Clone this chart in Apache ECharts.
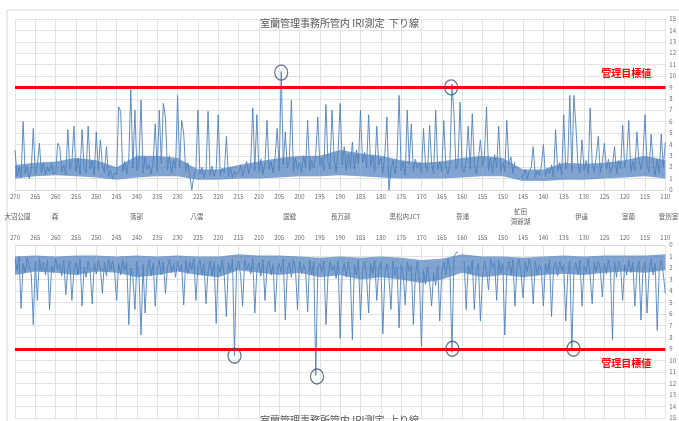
<!DOCTYPE html>
<html>
<head>
<meta charset="utf-8">
<script src="https://cdn.jsdelivr.net/npm/echarts@6/dist/echarts.min.js"></script>
<style>
  html, body { margin: 0; padding: 0; background: #fff; }
  #chart { width: 679px; height: 421px; }
</style>
</head>
<body>
<div id="chart"></div>
<script>
// キロポスト 270 → 110 (0.5km刻み)
const kmStart = 270;
const kmEnd = 110;
const kmStep = 0.5;

// 下り線 IRI (0.5km毎, 270kp から)
const iriDown = [
  3.5, 1.2, 2.0, 1.1, 6.0, 1.4, 2.1, 1.0, 1.8, 5.4,
  1.3, 2.2, 4.1, 1.5, 2.4, 1.3, 2.0, 1.6, 2.3, 1.4,
  1.5, 4.1, 3.8, 1.6, 2.2, 1.3, 5.3, 1.8, 2.4, 5.6,
  1.6, 2.8, 1.4, 5.3, 2.0, 1.5, 5.6, 1.8, 2.6, 1.3,
  5.1, 1.7, 4.4, 2.2, 1.5, 3.8, 1.2, 1.7, 1.0, 1.5,
  1.3, 7.3, 6.9, 1.6, 2.5, 1.4, 2.8, 8.8, 1.9, 7.0,
  1.7, 2.4, 7.9, 1.5, 2.9, 1.8, 2.2, 1.4, 2.5, 5.8,
  1.6, 7.0, 2.3, 7.6, 6.4, 1.8, 3.0, 1.5, 2.6, 1.9,
  8.3, 2.0, 6.1, 5.0, 1.6, 2.4, 1.3, 0.0, 1.2, 1.8,
  7.0, 1.4, 2.0, 1.1, 1.7, 6.9, 1.3, 2.1, 1.2, 1.8,
  6.6, 1.3, 1.9, 1.5, 4.7, 1.2, 2.0, 1.1, 1.6, 1.3,
  1.5, 2.2, 1.2, 1.9, 2.5, 1.4, 2.3, 7.2, 1.7, 6.6,
  1.6, 2.7, 1.4, 2.3, 6.1, 1.8, 2.5, 1.5, 2.9, 5.4,
  1.7, 10.4, 2.2, 5.1, 1.9, 2.6, 7.9, 1.6, 2.8, 1.8,
  2.4, 1.5, 3.0, 2.0, 6.1, 1.7, 2.6, 1.9, 3.2, 6.4,
  2.1, 2.8, 1.7, 7.5, 2.4, 1.8, 7.0, 2.9, 1.6, 3.4,
  7.6, 2.2, 3.8, 1.7, 3.1, 2.0, 4.2, 1.8, 3.5, 2.3,
  7.0, 2.4, 3.3, 1.9, 6.6, 2.1, 3.0, 1.6, 5.6, 2.2,
  2.8, 1.5, 3.2, 6.4, 0.0, 1.8, 2.6, 1.4, 2.9, 8.3,
  1.7, 2.5, 1.3, 7.0, 2.2, 5.8, 1.6, 2.7, 1.9, 2.4,
  1.5, 5.4, 2.1, 1.6, 5.7, 2.3, 1.4, 7.0, 1.8, 2.5,
  1.6, 6.1, 2.0, 1.4, 2.2, 9.3, 6.7, 1.8, 2.4, 7.7,
  2.0, 1.5, 2.6, 5.6, 1.8, 6.7, 2.3, 1.4, 2.7, 4.4,
  2.1, 3.0, 7.3, 1.7, 2.8, 1.5, 3.1, 2.0, 5.6, 1.6,
  2.4, 1.6, 6.1, 2.2, 2.9, 1.5, 2.5, null, null, 1.1,
  1.2, 1.8, 1.0, 1.6, 2.0, 3.8, 1.1, 1.7, 1.3, 2.1,
  4.0, 1.2, 1.9, 1.4, 2.2, 1.1, 5.3, 1.6, 2.4, 1.3,
  6.6, 1.8, 2.5, 8.3, 1.6, 8.3, 5.6, 2.2, 1.5, 4.4,
  1.7, 2.6, 1.4, 7.2, 2.3, 1.6, 2.9, 4.7, 1.5, 2.4,
  4.1, 1.8, 2.7, 1.5, 2.1, 3.8, 1.4, 2.6, 1.9, 5.7,
  2.0, 2.8, 6.1, 1.6, 2.5, 1.7, 5.1, 2.6, 1.8, 2.9,
  6.6, 2.2, 1.6, 4.9, 2.4, 1.3, 2.7, 1.5, 4.9, 2.0,
  4.2
];

// 上り線 IRI (0.5km毎, 270kp から)
const iriUp = [
  1.3, 2.2, 1.0, 5.5, 1.6, 2.4, 1.1, 1.9, 2.5, 6.9,
  1.4, 4.8, 1.2, 2.3, 1.5, 2.6, 1.3, 5.6, 1.8, 2.4,
  1.2, 2.1, 1.6, 2.7, 1.3, 4.3, 2.0, 1.4, 4.8, 2.2,
  1.5, 2.6, 1.2, 5.3, 1.9, 2.8, 1.4, 2.3, 5.1, 1.6,
  2.5, 1.3, 2.0, 4.2, 1.5, 2.7, 1.2, 2.2, 1.4, 2.4,
  4.8, 1.6, 2.6, 1.3, 2.2, 1.5, 6.9, 2.0, 2.8, 5.6,
  1.4, 2.5, 7.8, 1.7, 5.9, 2.3, 1.3, 2.7, 1.6, 5.3,
  2.2, 1.3, 2.6, 1.5, 4.2, 2.0, 1.2, 2.4, 1.6, 2.8,
  1.4, 2.3, 1.7, 5.2, 1.3, 2.5, 1.5, 2.1, 1.2, 4.8,
  1.9, 1.3, 2.6, 1.6, 5.1, 2.2, 1.4, 2.7, 1.5, 6.8,
  1.7, 2.4, 1.3, 2.8, 6.2, 1.5, 2.3, 1.2, 9.6, 2.0,
  1.4, 2.6, 5.3, 1.3, 2.1, 1.6, 2.5, 1.2, 5.9, 2.2,
  1.5, 2.7, 1.3, 4.8, 2.0, 1.4, 2.6, 1.7, 5.8, 2.3,
  1.6, 2.4, 1.2, 6.5, 2.2, 1.5, 2.8, 1.3, 2.1, 5.6,
  1.4, 2.5, 1.7, 2.2, 5.8, 1.3, 2.6, 1.5, 11.3, 2.0,
  1.6, 2.3, 1.4, 6.9, 2.7, 1.5, 2.2, 1.8, 2.9, 1.4,
  8.1, 2.4, 1.6, 2.8, 1.5, 2.5, 8.2, 1.7, 2.6, 1.3,
  6.5, 2.2, 1.4, 2.7, 5.9, 1.6, 2.5, 1.3, 4.8, 2.1,
  1.5, 7.7, 2.4, 1.6, 2.8, 5.6, 1.4, 2.6, 1.9, 7.2,
  1.7, 2.5, 5.2, 1.5, 2.3, 1.8, 6.9, 2.6, 1.4, 2.9,
  8.8, 2.2, 3.4, 1.9, 3.2, 5.3, 2.4, 3.5, 1.8, 6.6,
  2.3, 1.5, 2.6, 1.2, 2.0, 9.3, 1.0, 0.7, 0.6, null,
  null, 1.4, 5.6, 1.8, 2.5, 1.3, 5.6, 2.2, 1.6, 6.6,
  2.8, 1.4, 2.3, 3.9, 1.2, 2.0, 1.5, 4.8, 1.3, 2.4,
  1.6, 7.8, 2.2, 1.4, 2.6, 1.3, 5.3, 1.9, 1.2, 2.5,
  4.6, 1.5, 2.3, 1.2, 2.1, 5.1, 1.4, 2.6, 1.7, 2.2,
  5.3, 1.6, 2.4, 1.3, 6.2, 2.0, 1.5, 2.7, 1.4, 2.2,
  1.7, 6.6, 2.5, 1.4, 9.2, 2.2, 1.5, 2.6, 1.3, 5.3,
  1.8, 2.4, 1.2, 2.7, 5.1, 1.5, 2.3, 1.4, 2.1, 4.5,
  1.6, 2.5, 1.3, 2.2, 8.2, 1.5, 2.8, 1.4, 2.0, 4.8,
  1.7, 2.6, 1.3, 2.4, 1.5, 5.3, 2.2, 1.4, 6.5, 2.0,
  1.5, 5.9, 2.3, 1.2, 2.6, 1.6, 7.4, 2.1, 1.3, 2.5,
  4.2
];

// 密集帯 (5km毎の下端・上端, 270kp から)
const bandKm = [270, 265, 260, 255, 250, 245, 240, 235, 230, 225, 220, 215, 210, 205, 200, 195, 190,
  185, 180, 175, 170, 165, 160, 155, 150, 145, 140, 135, 130, 125, 120, 115, 110];
const bandDownLow = [1.0, 1.2, 1.3, 1.2, 1.1, 0.9, 1.1, 1.2, 1.2, 0.9, 0.9, 1.0, 1.0, 1.1, 1.2, 1.2, 1.3,
  1.2, 1.1, 1.0, 1.0, 1.0, 1.1, 1.2, 1.2, 0.8, 0.8, 0.9, 0.9, 1.0, 1.1, 1.2, 1.0];
const bandDownHigh = [2.2, 2.4, 2.5, 2.8, 2.6, 2.0, 3.0, 3.0, 2.8, 1.8, 1.8, 2.2, 2.5, 2.8, 3.0, 3.0, 3.5,
  3.2, 3.0, 2.6, 2.4, 2.5, 2.8, 3.0, 2.8, 1.8, 1.8, 2.4, 2.3, 2.4, 2.6, 3.0, 2.6];
const bandUpLow = [1.0, 0.9, 1.0, 0.9, 0.9, 1.0, 0.9, 1.0, 0.9, 1.0, 1.0, 0.8, 0.9, 0.9, 1.0, 1.1, 1.0,
  1.1, 1.0, 1.1, 1.3, 1.2, 0.8, 1.0, 1.0, 1.1, 1.0, 0.9, 1.0, 0.9, 0.9, 0.9, 0.8];
const bandUpHigh = [2.6, 2.3, 2.4, 2.6, 2.3, 2.4, 2.8, 2.6, 2.3, 2.6, 2.8, 2.2, 2.4, 2.6, 2.4, 2.8, 2.6,
  3.0, 2.8, 3.0, 3.3, 3.0, 2.4, 2.8, 2.6, 2.8, 2.6, 2.5, 2.6, 2.4, 2.3, 2.4, 2.2];

// IC・JCT 名とキロポスト
const stationNames = ['大沼公園', '森', '落部', '八雲', '国縫', '長万部', '黒松内JCT', '豊浦', '虻田\n洞爺湖', '伊達', '室蘭', '登別室蘭'];
const stationKm = [269.4, 260.2, 240.3, 225.5, 202.8, 190.3, 174.6, 160.5, 146.3, 131.4, 119.9, 109.3];

// 管理目標値
const targetIri = 9;

// 丸印 (km, IRI)
const circleDownKm = [204.5, 162.7];
const circleDownVal = [10.3, 9.0];
const circleUpKm = [216.0, 195.7, 162.4, 132.6];
const circleUpVal = [9.6, 11.4, 9.0, 9.0];

const kms = [];
for (let k = kmStart; k >= kmEnd; k -= kmStep) kms.push(k);

const pairs = (xs, ys) => xs.map((x, i) => [x, ys[i]]);

const font = '"Noto Sans CJK JP", "Noto Sans", sans-serif';
const lineBlue = '#4f81bd';
const gridGray = '#e3e3e3';
const labelGray = '#6b6b6b';

const xBase = {
  type: 'value', min: kmEnd, max: kmStart, interval: 5, inverse: true,
  axisTick: { show: false },
  axisLine: { show: true, lineStyle: { color: '#d9d9d9' } },
  splitLine: { show: true, lineStyle: { color: gridGray, width: 1 } },
  axisLabel: { fontSize: 6, color: labelGray, fontFamily: font, margin: 4 }
};
const yBase = {
  type: 'value', min: 0, max: 15, interval: 1, position: 'right',
  axisTick: { show: false },
  axisLine: { show: false },
  splitLine: { show: true, lineStyle: { color: gridGray, width: 1 } },
  axisLabel: { fontSize: 6, color: labelGray, fontFamily: font, margin: 4 }
};

const targetLine = (pos) => ({
  silent: true,
  symbol: 'none',
  lineStyle: { color: '#ff0000', width: 3, type: 'solid' },
  label: {
    show: true, formatter: '管理目標値', position: pos,
    color: '#ff0000', fontSize: 10, fontWeight: 'bold', fontFamily: font,
    distance: [14, 9]
  },
  data: [{ yAxis: targetIri }]
});

const circleStyle = {
  color: 'rgba(0,0,0,0)', borderColor: '#44546a', borderWidth: 1.3
};

// 密集帯: 隣り合う 5km 点の間を台形で塗る
const bandSeries = (axis, low, high) => ({
  type: 'custom', xAxisIndex: axis, yAxisIndex: axis, silent: true, z: 1,
  data: bandKm.map((k, i) => [k, low[i], high[i]]),
  renderItem: (params, api) => {
    const i = params.dataIndex;
    if (i >= bandKm.length - 1) return null;
    const pts = [
      api.coord([bandKm[i], low[i]]),
      api.coord([bandKm[i + 1], low[i + 1]]),
      api.coord([bandKm[i + 1], high[i + 1]]),
      api.coord([bandKm[i], high[i]])
    ];
    return {
      type: 'polygon',
      shape: { points: pts },
      style: { fill: lineBlue, opacity: 0.72 }
    };
  }
});

const chart = echarts.init(document.getElementById('chart'));
chart.setOption({
  animation: false,
  backgroundColor: '#fff',
  title: [
    {
      text: '室蘭管理事務所管内 IRI測定  下り線', left: 'center', top: 13,
      textStyle: { fontSize: 10, fontWeight: 'normal', color: '#595959', fontFamily: font }
    },
    {
      text: '室蘭管理事務所管内 IRI測定  上り線', left: 'center', top: 410,
      textStyle: { fontSize: 10, fontWeight: 'normal', color: '#595959', fontFamily: font }
    }
  ],
  graphic: [{
    type: 'rect', silent: true, z: -1,
    shape: { x: 7, y: 10, width: 700, height: 430 },
    style: { fill: 'none', stroke: '#d6d6d6', lineWidth: 1 }
  }],
  grid: [
    { left: 15, right: 10, top: 19, height: 171 },
    { left: 15, right: 10, top: 245, height: 173 },
    { left: 15, right: 10, top: 212, height: 10 }
  ],
  xAxis: [
    Object.assign({}, xBase, { gridIndex: 0, position: 'bottom' }),
    Object.assign({}, xBase, { gridIndex: 1, position: 'top' }),
    { type: 'value', gridIndex: 2, min: kmEnd, max: kmStart, inverse: true, show: false }
  ],
  yAxis: [
    Object.assign({}, yBase, { gridIndex: 0 }),
    Object.assign({}, yBase, { gridIndex: 1, inverse: true }),
    { type: 'value', gridIndex: 2, min: 0, max: 1, show: false }
  ],
  series: [
    bandSeries(0, bandDownLow, bandDownHigh),
    bandSeries(1, bandUpLow, bandUpHigh),
    {
      name: '下り線', type: 'line', xAxisIndex: 0, yAxisIndex: 0,
      data: pairs(kms, iriDown), showSymbol: false, symbol: 'none',
      lineStyle: { color: lineBlue, width: 0.9 }, sampling: 'none', z: 2,
      markLine: targetLine('insideStartTop')
    },
    {
      name: '上り線', type: 'line', xAxisIndex: 1, yAxisIndex: 1,
      data: pairs(kms, iriUp), showSymbol: false, symbol: 'none',
      lineStyle: { color: lineBlue, width: 0.9 }, sampling: 'none', z: 2,
      markLine: targetLine('insideStartBottom')
    },
    {
      type: 'scatter', xAxisIndex: 0, yAxisIndex: 0, clip: false,
      data: pairs(circleDownKm, circleDownVal),
      symbol: 'circle', symbolSize: [13, 15], itemStyle: circleStyle, z: 5
    },
    {
      type: 'scatter', xAxisIndex: 1, yAxisIndex: 1, clip: false,
      data: pairs(circleUpKm, circleUpVal),
      symbol: 'circle', symbolSize: [13, 15], itemStyle: circleStyle, z: 5
    },
    {
      type: 'scatter', xAxisIndex: 2, yAxisIndex: 2, clip: false,
      data: stationKm.map((k, i) => ({ value: [k, 0.5], name: stationNames[i] })),
      symbolSize: 1, itemStyle: { color: 'rgba(0,0,0,0)' },
      label: {
        show: true, position: 'inside', formatter: (p) => p.name,
        fontSize: 6.5, color: '#333', fontFamily: font, lineHeight: 10
      }
    }
  ]
});
</script>
</body>
</html>
